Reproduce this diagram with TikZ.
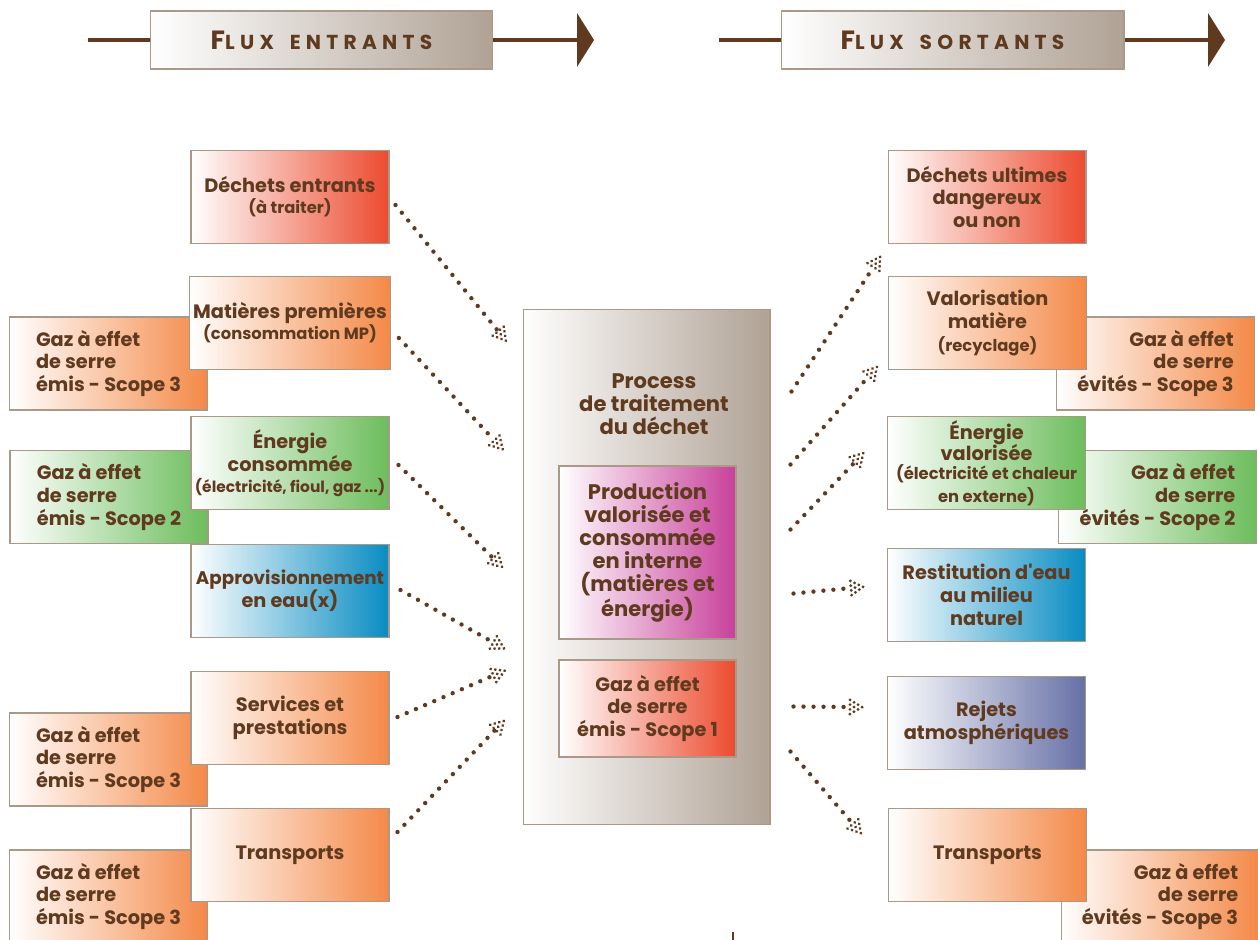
\documentclass[tikz,border=0pt]{standalone}
\usepackage{fontspec}
\setmainfont{Poppins}
\usetikzlibrary{calc,decorations.markings}

\definecolor{brn}{RGB}{96,58,30}
\definecolor{edge}{RGB}{170,152,136}
\definecolor{rouge}{RGB}{236,74,46}
\definecolor{orng}{RGB}{244,137,72}
\definecolor{vert}{RGB}{108,189,92}
\definecolor{bleu}{RGB}{8,140,194}
\definecolor{mauve}{RGB}{200,64,154}
\definecolor{ardoise}{RGB}{102,112,166}
\definecolor{taupe}{RGB}{176,162,149}

% small text inside the boxes
\newcommand\petit[1]{{\fontsize{9.3}{11}\selectfont #1}}
% header words: one big capital, then smaller capitals
\newcommand\hdword[2]{{\fontsize{15}{15}\selectfont #1}{\fontsize{11.5}{11.5}\selectfont #2}}
% triangle of dots at the end of a flow
\newcommand\tipdots{%
  \foreach \c/\n in {0/4,1/3,2/2,3/1} {
    \foreach \k in {1,...,\n} {
      \fill[brn] (\c*2.3pt, {(\k-(\n+1)/2)*2.7pt}) circle (0.9pt);
    }
  }%
}

\tikzset{
  box/.style={draw=edge, line width=0.6pt, left color=white, inner sep=2pt,
    align=center, font=\bfseries\fontsize{11}{13}\selectfont},
  mbox/.style={box, minimum width=3.96cm, minimum height=1.86cm},
  gesl/.style={mbox, align=left},
  gesr/.style={mbox, align=right},
  flow/.style={brn, line width=2.5pt, line cap=round, dash pattern=on 0pt off 5.7pt,
    postaction={decorate, decoration={markings, mark=at position 1 with {\tipdots}}}},
  head/.style={draw=edge, line width=0.6pt, left color=white, right color=taupe,
    minimum width=6.86cm, minimum height=1.16cm,
    font=\bfseries\addfontfeature{LetterSpace=26}},
  headline/.style={brn, line width=2.3pt}
}

\begin{document}
\begin{tikzpicture}[x=0.02cm, y=-0.02cm, text=brn]
\useasboundingbox (0,0) rectangle (1258,940);

% headers
\node[head] (hin) at (321.5,40) {\hdword{F}{LUX}\hspace{9pt}\hdword{}{ENTRANTS}};
\node[head] (hout) at (952.5,40) {\hdword{F}{LUX}\hspace{9pt}\hdword{}{SORTANTS}};
\coordinate (hinA) at (88,40);
\coordinate (hinB) at (578,40);
\coordinate (houtA) at (719,40);
\coordinate (houtB) at (1209,40);
\draw[headline] (hinA) -- (hin.west);
\draw[headline] (hin.east) -- (hinB);
\fill[brn] ($(hinB)+(-1,-27)$) -- ($(hinB)+(16,0)$) -- ($(hinB)+(-1,27)$) -- cycle;
\draw[headline] (houtA) -- (hout.west);
\draw[headline] (hout.east) -- (houtB);
\fill[brn] ($(houtB)+(-1,-27)$) -- ($(houtB)+(16,0)$) -- ($(houtB)+(-1,27)$) -- cycle;

% left: greenhouse gas boxes (behind)
\node[gesl, right color=orng] (g3a) at (108.5,363.5) {Gaz à effet\\de serre\\émis - Scope 3};
\node[gesl, right color=vert] (g2) at (109,497) {Gaz à effet\\de serre\\émis - Scope 2};
\node[gesl, right color=orng] (g3b) at (108.5,759.5) {Gaz à effet\\de serre\\émis - Scope 3};
\node[gesl, right color=orng] (g3c) at (108.5,896.5) {Gaz à effet\\de serre\\émis - Scope 3};

% left: incoming flows
\node[mbox, right color=rouge] (dech) at (290,197) {Déchets entrants\\[-1pt]\petit{(à traiter)}};
\node[mbox, right color=orng] (matp) at (290,323) {Matières premières\\[-1pt]\petit{(consommation MP)}};
\node[mbox, right color=vert] (ener) at (290,463) {Énergie\\consommée\\[-1pt]{\fontsize{8.8}{11}\selectfont (électricité, fioul, gaz ...)}};
\node[mbox, right color=bleu] (eau) at (290,591) {{\fontsize{10.4}{13}\selectfont Approvisionnement}\\en eau(x)};
\node[mbox, right color=orng] (serv) at (290,718) {Services et\\prestations};
\node[mbox, right color=orng] (trin) at (290,855) {Transports};

% centre
\node[box, right color=taupe, minimum width=4.94cm, minimum height=10.32cm] (proc) at (646.5,567) {};
\node[font=\bfseries\fontsize{12}{13}\selectfont, align=center] (ptxt) at (654,404) {Process\\de traitement\\du déchet};
\node[box, right color=mauve, minimum width=3.54cm, minimum height=3.46cm,
  font=\bfseries\fontsize{12}{13}\selectfont] (prod) at (647.5,552.5)
  {Production\\valorisée et\\consommée\\en interne\\(matières et\\énergie)};
\node[box, right color=rouge, minimum width=3.54cm, minimum height=1.94cm] (ges1) at (647.5,708.5)
  {Gaz à effet\\de serre\\émis - Scope 1};

% right: greenhouse gas boxes (behind)
\node[gesr, right color=orng] (e3a) at (1155.5,363.5) {Gaz à effet\\de serre\\évités - Scope 3};
\node[gesr, right color=vert] (e2) at (1157.5,497) {Gaz à effet\\de serre\\évités - Scope 2};
\node[gesr, right color=orng] (e3b) at (1160,896.5) {Gaz à effet\\de serre\\évités - Scope 3};

% right: outgoing flows
\node[mbox, right color=rouge] (ult) at (987,197) {Déchets ultimes\\dangereux\\ou non};
\node[mbox, right color=orng] (valm) at (987.5,323) {Valorisation\\matière\\[0pt]\petit{(recyclage)}};
\node[mbox, right color=vert] (enval) at (986.5,463) {Énergie\\[-1pt]valorisée\\[-2pt]\petit{(électricité et chaleur}\\[0pt]\petit{en externe)}};
\node[mbox, right color=bleu] (rest) at (986.5,595) {Restitution d\textquotesingle eau\\au milieu\\naturel};
\node[mbox, right color=ardoise] (rej) at (986.5,723) {Rejets\\atmosphériques};
\node[mbox, right color=orng] (trout) at (987.5,855) {Transports};

% dotted flows in
\draw[flow] ($(dech.east)+(6,8)$) -- ($(proc.north west)+(-24,23)$);
\draw[flow] ($(matp.east)+(8,15)$) -- ($(proc.north west)+(-28,132)$);
\draw[flow] ($(ener.east)+(9,2)$) -- ($(proc.north west)+(-29,250)$);
\draw[flow] ($(eau.east)+(11,-1)$) -- ($(proc.north west)+(-29,334)$);
\draw[flow] ($(serv.east)+(8,-1)$) -- ($(proc.north west)+(-29,367)$);
\draw[flow] ($(trin.east)+(8,-23)$) -- ($(proc.north west)+(-27,421)$);

% dotted flows out
\draw[flow] ($(proc.north east)+(21,83)$) -- ($(ult.west)+(-14,70)$);
\draw[flow] ($(proc.north east)+(20,156)$) -- ($(valm.west)+(-19,53)$);
\draw[flow] ($(proc.north east)+(20,221)$) -- ($(enval.west)+(-32,-1)$);
\draw[flow] ($(proc.north east)+(23,285)$) -- ($(rest.west)+(-36,-7)$);
\draw[flow] ($(proc.north east)+(23,398)$) -- ($(rej.west)+(-37,-16)$);
\draw[flow] ($(proc.north east)+(20,443)$) -- ($(trout.west)+(-35,-31)$);

% stray tick at the bottom
\coordinate (tickA) at (733,932);
\coordinate (tickB) at (733,941);
\draw[brn, line width=1.2pt] (tickA) -- (tickB);
\end{tikzpicture}
\end{document}
